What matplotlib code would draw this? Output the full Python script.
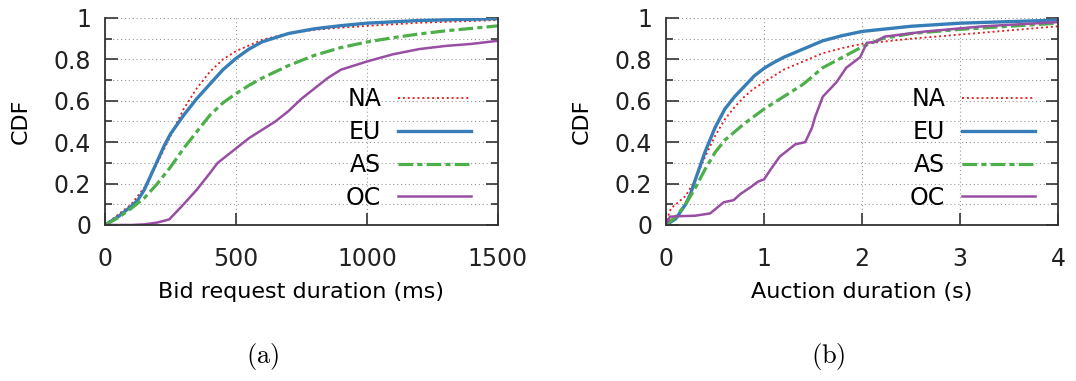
import matplotlib
matplotlib.use("Agg")
import matplotlib.pyplot as plt
import numpy as np

plt.rcParams['font.family'] = ['DejaVu Sans']
plt.rcParams['mathtext.fontset'] = 'cm'

# ---------------- data: (a) bid request duration (ms) ----------------
a_na_x = [0, 25, 50, 100, 150, 200, 250, 300, 350, 400, 450, 500, 600, 700, 800, 900, 1000, 1200, 1500]
a_na_y = [0, 0.025, 0.05, 0.10, 0.18, 0.30, 0.43, 0.56, 0.66, 0.74, 0.80, 0.84, 0.895, 0.925, 0.943, 0.953, 0.962, 0.977, 0.99]
a_eu_x = [0, 25, 50, 100, 125, 150, 175, 200, 225, 250, 300, 350, 400, 450, 500, 550, 600, 700, 800, 900, 1000, 1200, 1500]
a_eu_y = [0, 0.02, 0.04, 0.09, 0.12, 0.17, 0.24, 0.31, 0.38, 0.44, 0.53, 0.61, 0.68, 0.75, 0.805, 0.85, 0.885, 0.925, 0.948, 0.963, 0.975, 0.988, 0.997]
a_as_x = [0, 50, 100, 150, 200, 250, 300, 350, 400, 450, 500, 550, 600, 700, 800, 900, 1000, 1100, 1200, 1300, 1400, 1500]
a_as_y = [0, 0.035, 0.08, 0.13, 0.20, 0.28, 0.37, 0.45, 0.53, 0.59, 0.635, 0.675, 0.71, 0.77, 0.82, 0.857, 0.884, 0.905, 0.923, 0.938, 0.95, 0.962]
a_oc_x = [0, 100, 150, 200, 245, 270, 300, 350, 400, 430, 500, 550, 600, 650, 700, 750, 800, 850, 900, 950, 1000, 1100, 1200, 1300, 1400, 1500]
a_oc_y = [0, 0, 0.003, 0.012, 0.027, 0.06, 0.10, 0.17, 0.25, 0.30, 0.37, 0.42, 0.46, 0.50, 0.55, 0.61, 0.66, 0.71, 0.75, 0.77, 0.79, 0.825, 0.85, 0.865, 0.875, 0.89]

# ---------------- data: (b) auction duration (s) ----------------
b_na_x = [0, 0.02, 0.05, 0.1, 0.2, 0.3, 0.4, 0.5, 0.6, 0.7, 0.8, 0.9, 1.0, 1.2, 1.4, 1.6, 1.8, 2.0, 2.5, 3.0, 3.5, 4.0]
b_na_y = [0, 0.04, 0.08, 0.10, 0.14, 0.22, 0.33, 0.43, 0.51, 0.57, 0.62, 0.66, 0.69, 0.75, 0.79, 0.83, 0.855, 0.875, 0.90, 0.92, 0.94, 0.96]
b_eu_x = [0, 0.1, 0.2, 0.25, 0.3, 0.4, 0.5, 0.6, 0.7, 0.8, 0.9, 1.0, 1.1, 1.2, 1.4, 1.6, 1.8, 2.0, 2.5, 3.0, 4.0]
b_eu_y = [0, 0.03, 0.10, 0.15, 0.22, 0.355, 0.47, 0.56, 0.62, 0.67, 0.72, 0.757, 0.785, 0.81, 0.85, 0.89, 0.915, 0.935, 0.96, 0.975, 0.99]
b_as_x = [0, 0.1, 0.2, 0.3, 0.4, 0.5, 0.6, 0.7, 0.8, 1.0, 1.2, 1.4, 1.6, 1.8, 2.0, 2.2, 2.5, 3.0, 3.5, 4.0]
b_as_y = [0, 0.04, 0.10, 0.18, 0.27, 0.35, 0.41, 0.45, 0.49, 0.56, 0.62, 0.68, 0.76, 0.81, 0.86, 0.90, 0.925, 0.945, 0.96, 0.975]
b_oc_x = [0, 0.04, 0.1, 0.3, 0.45, 0.59, 0.69, 0.76, 0.87, 0.94, 1.0, 1.07, 1.16, 1.32, 1.42, 1.49, 1.52, 1.6, 1.74, 1.84, 1.98, 2.05, 2.14, 2.23, 2.65, 3.24, 4.0]
b_oc_y = [0, 0.04, 0.042, 0.045, 0.056, 0.11, 0.12, 0.15, 0.185, 0.21, 0.22, 0.27, 0.33, 0.39, 0.40, 0.47, 0.52, 0.62, 0.69, 0.76, 0.81, 0.88, 0.885, 0.91, 0.935, 0.96, 0.98]

labels = ["NA", "EU", "AS", "OC"]
colors = ["#e41a1c", "#377eb8", "#4daf4a", "#984ea3"]

fig = plt.figure(figsize=(10.76, 3.81), dpi=100)
axA = fig.add_axes([105/1076, 1 - 225/381, 393/1076, 207/381])
axB = fig.add_axes([666/1076, 1 - 225/381, 392/1076, 207/381])

FS = 17

def style(ax, xlim, xticks, xlabel):
    ax.set_xlim(*xlim)
    ax.set_ylim(0, 1)
    ax.set_xticks(xticks)
    ax.set_yticks([0, 0.2, 0.4, 0.6, 0.8, 1.0])
    ax.set_yticklabels(["0", "0.2", "0.4", "0.6", "0.8", "1"])
    ax.set_yticks(np.arange(0.1, 1.0, 0.2), minor=True)
    ax.spines['top'].set_visible(False)
    for s in ['left', 'bottom', 'right']:
        ax.spines[s].set_color('#333333')
        ax.spines[s].set_linewidth(1.3)
    ax.tick_params(axis='both', which='major', direction='in', length=9, width=1.2,
                   color='#333333', labelsize=FS, labelcolor='#222222')
    ax.tick_params(axis='y', which='both', right=True, direction='in')
    ax.tick_params(axis='y', which='minor', length=5, width=1.2, color='#333333')
    ax.tick_params(axis='x', which='major', pad=16)
    ax.tick_params(axis='y', which='major', pad=10)
    ax.grid(True, which='both', axis='y', linestyle=(0, (1, 2.5)), color='#999999', linewidth=0.8)
    ax.grid(True, which='major', axis='x', linestyle=(0, (1, 2.5)), color='#999999', linewidth=0.8)
    ax.set_axisbelow(True)
    ax.set_xlabel(xlabel, fontsize=16, labelpad=8)
    ax.set_ylabel("CDF", fontsize=16)

def draw(ax, data):
    (nx, ny), (ex, ey), (sx, sy), (ox, oy) = data
    ax.plot(nx, ny, color=colors[0], lw=1.3, linestyle=(0, (1.1, 1.6)), label=labels[0])
    ax.plot(ex, ey, color=colors[1], lw=2.4, linestyle='-', label=labels[1])
    ax.plot(sx, sy, color=colors[2], lw=2.3, linestyle=(0, (4.6, 1.3, 1.6, 1.3)), label=labels[2])
    ax.plot(ox, oy, color=colors[3], lw=1.8, linestyle='-', label=labels[3])

draw(axA, [(a_na_x, a_na_y), (a_eu_x, a_eu_y), (a_as_x, a_as_y), (a_oc_x, a_oc_y)])
draw(axB, [(b_na_x, b_na_y), (b_eu_x, b_eu_y), (b_as_x, b_as_y), (b_oc_x, b_oc_y)])

style(axA, (0, 1500), [0, 500, 1000, 1500], "Bid request duration (ms)")
style(axB, (0, 4), [0, 1, 2, 3, 4], "Auction duration (s)")

axA.yaxis.set_label_coords((31 - 105) / 393, 0.5)
axB.yaxis.set_label_coords((592 - 666) / 392, 0.5)

for ax, xr in [(axA, (471 - 105) / 393), (axB, (1035 - 666) / 392)]:
    leg = ax.legend(loc='upper right', bbox_to_anchor=(xr, 0.665), markerfirst=False,
                    frameon=False, fontsize=FS, handlelength=3.1, handletextpad=0.7,
                    labelspacing=0.37, borderaxespad=0, borderpad=0)

fig.text(263/1076, 1 - 357/381, r'$\mathrm{(a)}$', ha='center', va='center', fontsize=19)
fig.text(828/1076, 1 - 357/381, r'$\mathrm{(b)}$', ha='center', va='center', fontsize=19)

fig.savefig("out.png", dpi=100)
